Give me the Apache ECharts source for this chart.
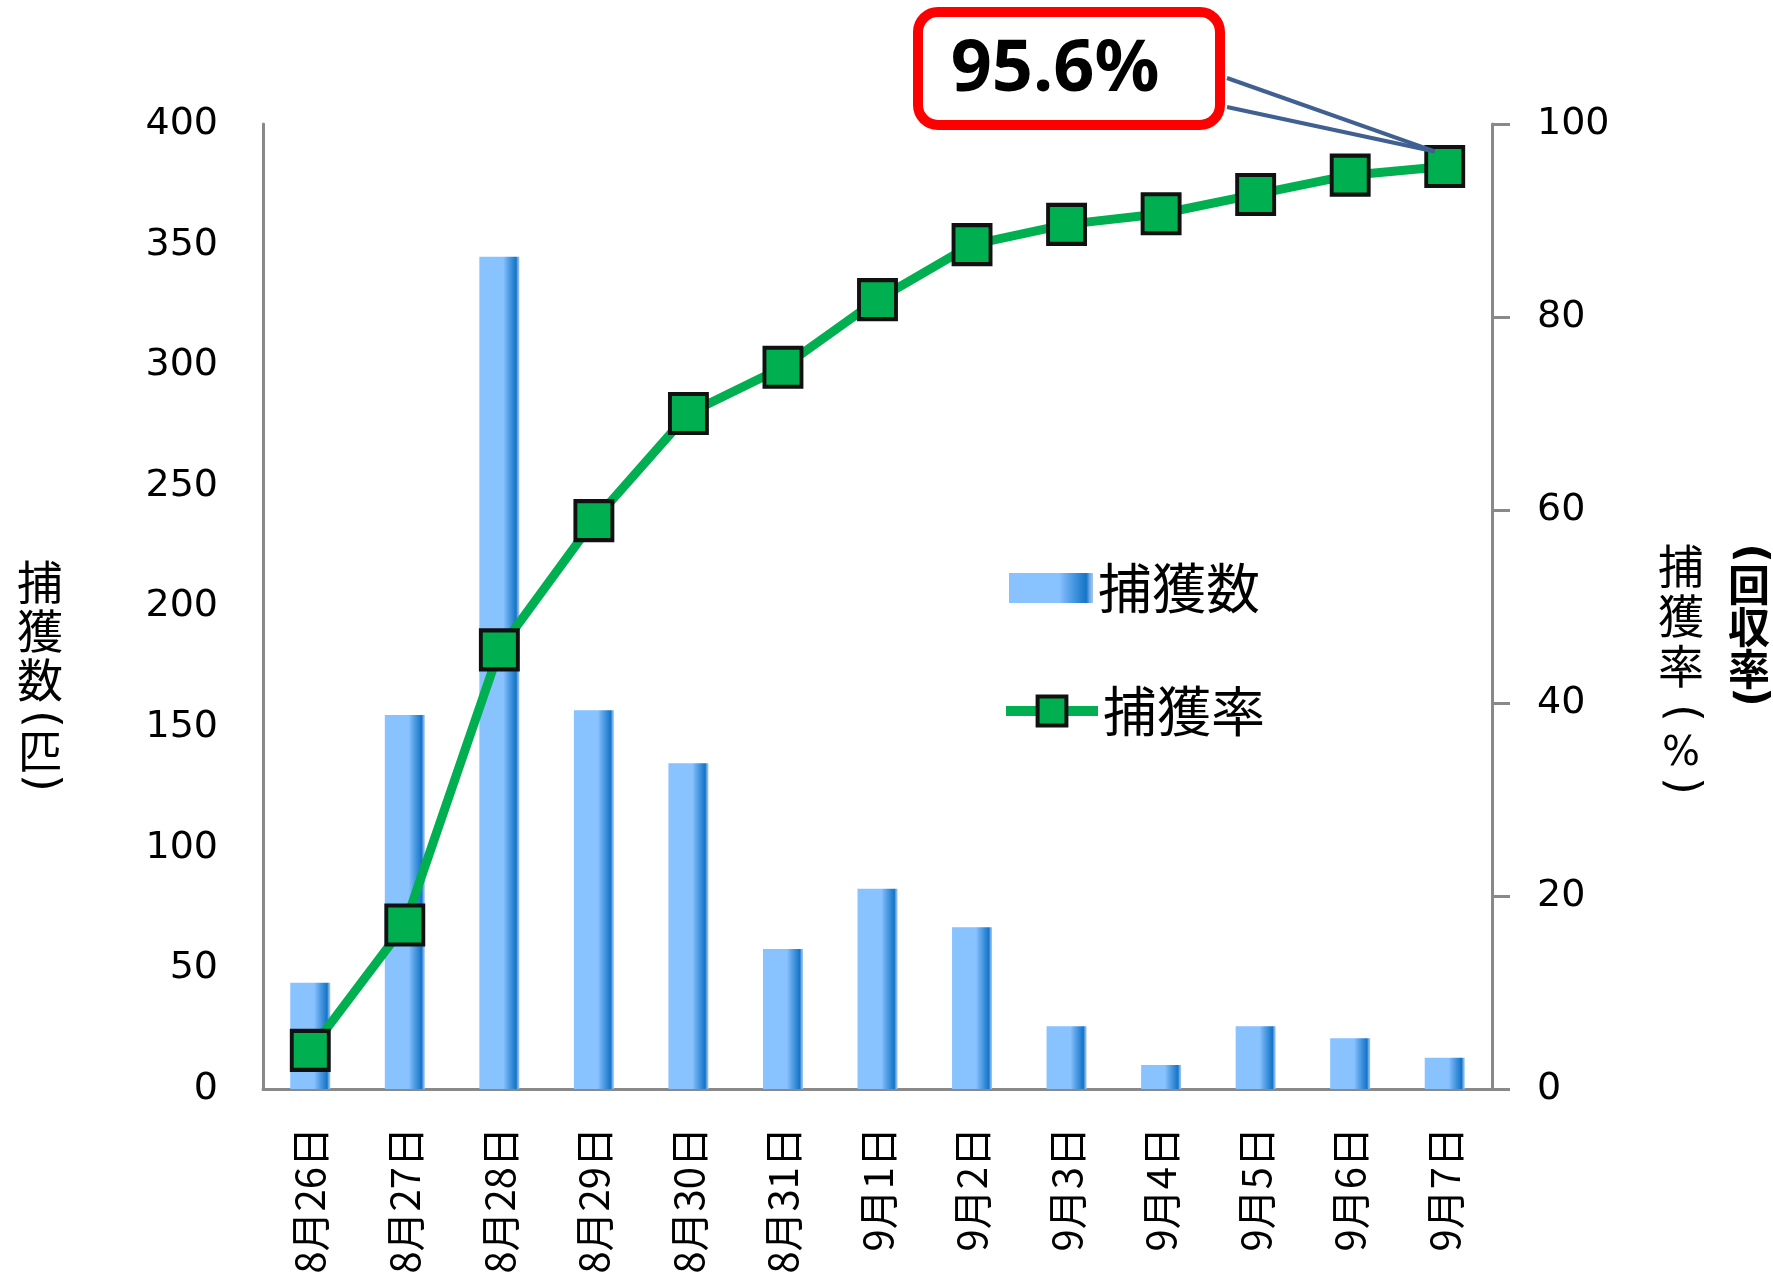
<!DOCTYPE html>
<html><head><meta charset="utf-8">
<script src="https://cdn.jsdelivr.net/npm/echarts@6/dist/echarts.min.js"></script>
<style>html,body{margin:0;padding:0;background:#fff}#c{width:1773px;height:1278px}</style>
</head><body><div id="c"></div>
<script>
const categories = ['8月26日','8月27日','8月28日','8月29日','8月30日','8月31日','9月1日','9月2日','9月3日','9月4日','9月5日','9月6日','9月7日'];
const catchCounts = [44, 155, 345, 157, 135, 58, 83, 67, 26, 10, 26, 21, 13];
const catchRates = [4.0, 17.0, 45.5, 58.9, 70.0, 74.8, 81.8, 87.5, 89.6, 90.7, 92.7, 94.7, 95.6];
const leftAxisTicks = [0, 50, 100, 150, 200, 250, 300, 350, 400];
const rightAxisTicks = [0, 20, 40, 60, 80, 100];
const seriesNames = ['捕獲数', '捕獲率'];
const annotationText = '95.6%';

const chart = echarts.init(document.getElementById('c'), null, {renderer: 'canvas'});
const axisGrey = '#898989';
const numFont = 'DejaVu Sans';

const barGrad = new echarts.graphic.LinearGradient(0, 0, 1, 0, [
  {offset: 0, color: '#88C2FF'},
  {offset: 0.6, color: '#88C2FF'},
  {offset: 0.66, color: '#70B0F2'},
  {offset: 0.8, color: '#3C90DC'},
  {offset: 0.92, color: '#1574C6'},
  {offset: 0.96, color: '#6FAAE8'},
  {offset: 1, color: '#A8C8F0'}
]);

function ch(text, x, y, size, weight, rot, family) {
  return {
    type: 'text', x: x, y: y, z: 100, rotation: rot || 0,
    style: {text: text, fontFamily: family || 'Noto Sans CJK JP', fontSize: size, fontWeight: weight || 'normal',
      fill: '#000', align: 'center', verticalAlign: 'middle', textAlign: 'center', textVerticalAlign: 'middle'}
  };
}
const R = -Math.PI / 2;

const option = {
  animation: false,
  backgroundColor: '#fff',
  grid: {left: 263, right: 281, top: 124, bottom: 189, containLabel: false},
  legend: [
    {data: [{name: seriesNames[0], icon: 'rect'}], left: 1004, top: 556, itemWidth: 84, itemHeight: 30, itemGap: 0,
     textStyle: {fontFamily: 'Noto Sans CJK JP', fontSize: 54, color: '#000'}},
    {data: [seriesNames[1]], left: 996, top: 679, itemWidth: 92, itemHeight: 36, itemGap: 0,
     lineStyle: {width: 10, color: '#00B050'},
     itemStyle: {color: '#00B050', borderColor: '#111', borderWidth: 4},
     textStyle: {fontFamily: 'Noto Sans CJK JP', fontSize: 54, color: '#000'}}
  ],
  xAxis: {
    type: 'category', data: categories,
    axisLine: {lineStyle: {color: axisGrey, width: 3}},
    axisTick: {show: false},
    axisLabel: {rotate: 90, margin: 38, fontFamily: 'Noto Sans CJK JP', fontSize: 40, color: '#000', interval: 0}
  },
  yAxis: [
    {type: 'value', min: leftAxisTicks[0], max: leftAxisTicks[leftAxisTicks.length - 1], interval: leftAxisTicks[1] - leftAxisTicks[0],
     axisLine: {show: true, lineStyle: {color: axisGrey, width: 3}},
     axisTick: {show: false}, splitLine: {show: false},
     axisLabel: {margin: 45, fontFamily: numFont, fontSize: 38, color: '#000'}},
    {type: 'value', min: rightAxisTicks[0], max: rightAxisTicks[rightAxisTicks.length - 1], interval: rightAxisTicks[1] - rightAxisTicks[0],
     position: 'right',
     axisLine: {show: true, lineStyle: {color: axisGrey, width: 3}},
     axisTick: {show: true, length: 18, inside: false, lineStyle: {color: axisGrey, width: 3}},
     splitLine: {show: false},
     axisLabel: {margin: 45, fontFamily: numFont, fontSize: 38, color: '#000'}}
  ],
  series: [
    {name: seriesNames[0], type: 'bar', data: catchCounts, yAxisIndex: 0, barWidth: 40,
     itemStyle: {color: barGrad}},
    {name: seriesNames[1], type: 'line', data: catchRates, yAxisIndex: 1,
     symbol: 'rect', symbolSize: [37, 39],
     lineStyle: {color: '#00B050', width: 9},
     itemStyle: {color: '#00B050', borderColor: '#111', borderWidth: 4}}
  ]
};
chart.setOption(option);

const last = catchRates.length - 1;
const p = chart.convertToPixel({xAxisIndex: 0, yAxisIndex: 1}, [categories[last], catchRates[last]]);
const tip = [p[0] - 10, p[1] - 15];

const graphics = [
  {type: 'line', z: 100, shape: {x1: 1227, y1: 78, x2: tip[0], y2: tip[1]}, style: {stroke: '#3F6090', lineWidth: 4}},
  {type: 'line', z: 100, shape: {x1: 1227, y1: 107, x2: tip[0], y2: tip[1]}, style: {stroke: '#3F6090', lineWidth: 4}},
  {type: 'rect', z: 101, shape: {x: 918, y: 12, width: 302, height: 113, r: 20},
   style: {fill: '#fff', stroke: '#FF0000', lineWidth: 10}},
  {type: 'text', z: 102, x: 1055, y: 70,
   style: {text: annotationText, fontFamily: 'Noto Sans', fontWeight: 'bold', fontSize: 72, fill: '#000',
     align: 'center', verticalAlign: 'middle', textAlign: 'center', textVerticalAlign: 'middle'}},
  // left axis title: 捕獲数(匹)
  ch('捕', 40, 582, 46), ch('獲', 40, 631, 46), ch('数', 40, 680, 46),
  ch('(', 40, 719, 46, 'normal', R, 'DejaVu Sans'), ch('匹', 40, 751, 44), ch(')', 40, 783, 46, 'normal', R, 'DejaVu Sans'),
  // right axis title: 捕獲率(%)
  ch('捕', 1681, 566, 46), ch('獲', 1681, 616, 46), ch('率', 1681, 666, 46),
  ch('(', 1681, 713, 46, 'normal', R, 'DejaVu Sans'), ch('%', 1681, 755, 40, 'normal', 0, 'DejaVu Sans'), ch(')', 1681, 786, 46, 'normal', R, 'DejaVu Sans'),
  // (回収率)
  ch('(', 1749, 553, 42, 'bold', R, 'DejaVu Sans'), ch('回', 1749, 585, 42, 'bold'), ch('収', 1749, 627, 42, 'bold'),
  ch('率', 1749, 669, 42, 'bold'), ch(')', 1749, 697, 42, 'bold', R, 'DejaVu Sans')
];
chart.setOption({graphic: graphics});
</script></body></html>
